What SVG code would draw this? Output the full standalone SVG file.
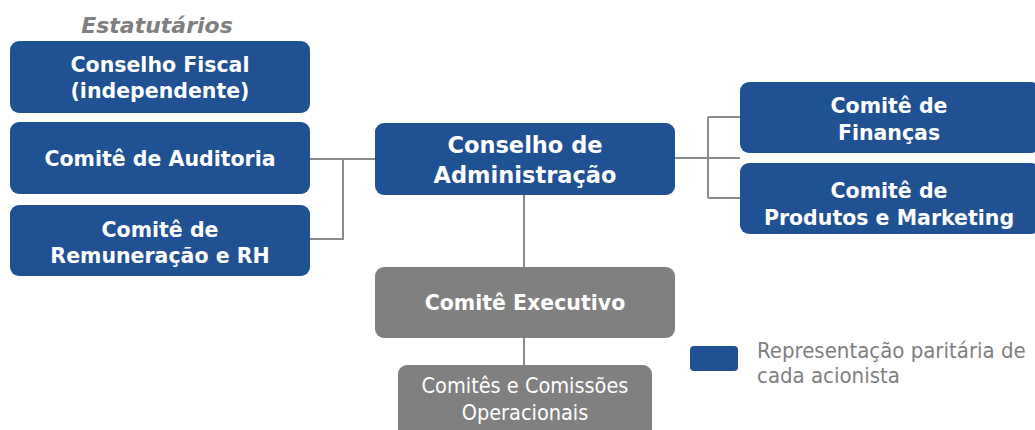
<svg xmlns="http://www.w3.org/2000/svg" width="1035" height="430" viewBox="0 0 1035 430">
<style>
.blue{fill:#1f5193}
.grey{fill:#808080}
.b{font-family:"DejaVu Sans","Liberation Sans",sans-serif;font-weight:bold;fill:#fff;text-anchor:middle;font-size:20.5px}
.r{font-family:"DejaVu Sans","Liberation Sans",sans-serif;font-stretch:condensed;fill:#fff;text-anchor:middle;font-size:21.5px}
.conn{fill:none;stroke:#8c8c8c;stroke-width:2}
.leg{font-family:"DejaVu Sans","Liberation Sans",sans-serif;font-stretch:condensed;fill:#7f7f7f;font-size:22px}
</style>
<rect width="1035" height="430" fill="#fff"/>
<text x="157" y="33" font-family="DejaVu Sans, Liberation Sans, sans-serif" font-weight="bold" font-style="italic" font-size="22px" fill="#7f7f7f" text-anchor="middle">Estatutários</text>
<g id="connectors">
<path class="conn" d="M310 159 H375 M310 239 H343 V159"/>
<path class="conn" d="M675 158 H740 M708 117 V198 M708 117 H740 M708 198 H740"/>
<path class="conn" d="M524 195 V267 M524 338 V365"/>
</g>
<g id="conselho-fiscal">
<rect class="blue" x="10" y="41" width="300" height="72" rx="9"/>
<text class="b" x="160" y="72">Conselho Fiscal</text>
<text class="b" x="160" y="98">(independente)</text>
</g>
<g id="comite-auditoria">
<rect class="blue" x="10" y="122" width="300" height="72" rx="9"/>
<text class="b" x="160" y="166">Comitê de Auditoria</text>
</g>
<g id="comite-remuneracao">
<rect class="blue" x="10" y="205" width="300" height="71" rx="9"/>
<text class="b" x="160" y="237">Comitê de</text>
<text class="b" x="160" y="263">Remuneração e RH</text>
</g>
<g id="conselho-administracao">
<rect class="blue" x="375" y="123" width="300" height="72" rx="9"/>
<text class="b" x="525" y="153" style="font-size:22.5px">Conselho de</text>
<text class="b" x="525" y="183" style="font-size:22.5px">Administração</text>
</g>
<g id="comite-financas">
<rect class="blue" x="740" y="82" width="300" height="71" rx="9"/>
<text class="b" x="889" y="113">Comitê de</text>
<text class="b" x="889" y="140">Finanças</text>
</g>
<g id="comite-produtos">
<rect class="blue" x="740" y="163" width="300" height="71" rx="9"/>
<text class="b" x="889" y="198">Comitê de</text>
<text class="b" x="889" y="225">Produtos e Marketing</text>
</g>
<g id="comite-executivo">
<rect class="grey" x="375" y="267" width="300" height="71" rx="9"/>
<text class="b" x="525" y="310">Comitê Executivo</text>
</g>
<g id="comites-operacionais">
<rect class="grey" x="398" y="365" width="254" height="75" rx="9"/>
<text class="r" x="525" y="393">Comitês e Comissões</text>
<text class="r" x="525" y="420">Operacionais</text>
</g>
<g id="legend">
<rect class="blue" x="690" y="346" width="48" height="25" rx="4"/>
<text class="leg" x="757" y="358">Representação paritária de</text>
<text class="leg" x="757" y="383">cada acionista</text>
</g>
</svg>
